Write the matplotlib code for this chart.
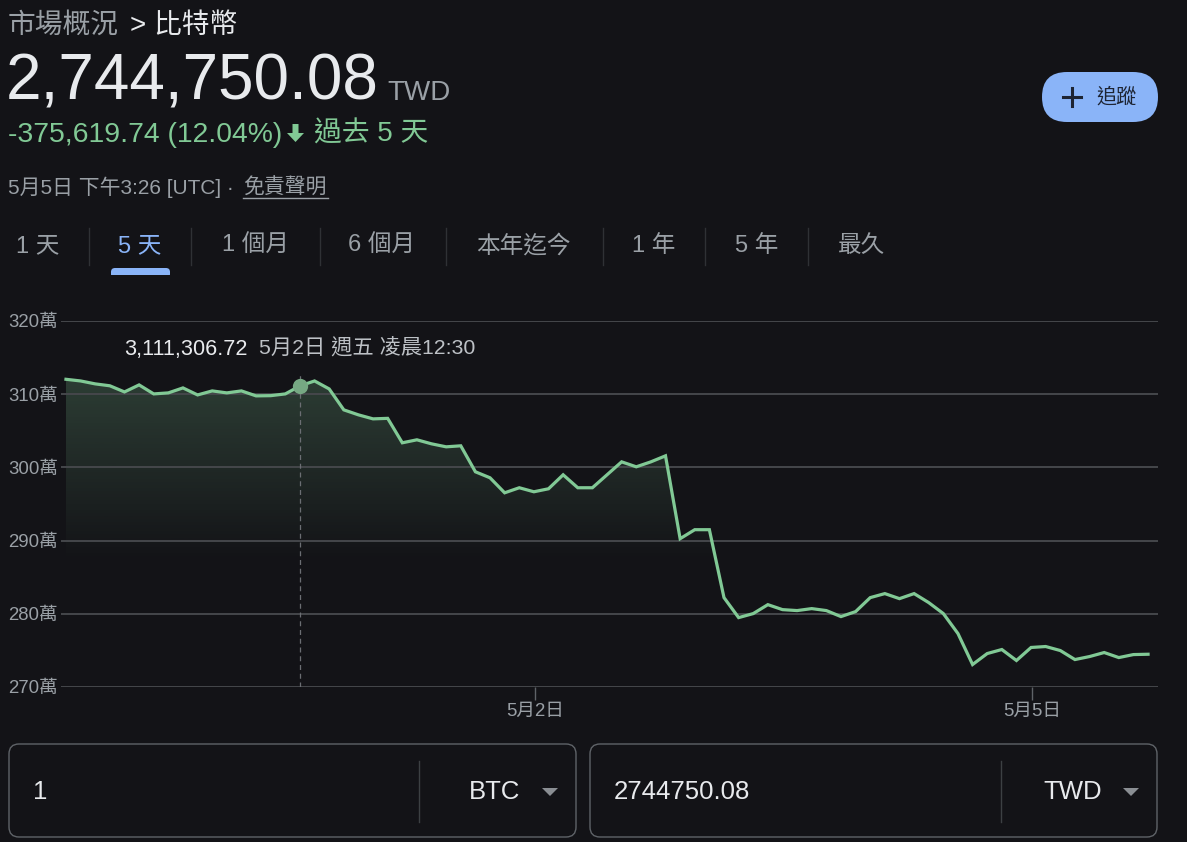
import matplotlib
matplotlib.use('Agg')
import matplotlib.pyplot as plt
import matplotlib.transforms as mtransforms
from matplotlib.patches import FancyBboxPatch, Polygon
from matplotlib.lines import Line2D
import numpy as np

plt.rcParams['font.family'] = ['Liberation Sans', 'Noto Sans CJK TC', 'DejaVu Sans']

# BTC/TWD, last 5 days (TWD)
prices = [3120369.82, 3118100, 3114100, 3111500, 3103100, 3112700, 3100400, 3101800,
          3108600, 3099000, 3104500, 3101800, 3104500, 3097700, 3098000, 3100400,
          3111306.72, 3118100, 3107200, 3078600, 3071800, 3066300, 3067000, 3033600,
          3037700, 3032200, 3028100, 3029500, 2994000, 2985800, 2965300, 2972200,
          2966700, 2970800, 2989900, 2972200, 2972200, 2989900, 3007600, 3000800,
          3007600, 3015800, 2902600, 2914900, 2914900, 2822100, 2794800, 2800300,
          2812500, 2805700, 2804400, 2807100, 2804400, 2796200, 2803000, 2822100,
          2827600, 2820700, 2827600, 2815300, 2800300, 2773000, 2730700, 2745700,
          2751200, 2736200, 2754000, 2755300, 2749800, 2737500, 2741600, 2747100,
          2740200, 2744300, 2744750.08]
hover_idx = 16
hover_time = '5月2日 週五 凌晨12:30'
day_ticks = [32.08, 66.07]
day_labels = ['5月2日', '5月5日']
y_ticks = [2700000, 2800000, 2900000, 3000000, 3100000, 3200000]
ranges = ['1 天', '5 天', '1 個月', '6 個月', '本年迄今', '1 年', '5 年', '最久']
change = prices[-1] - prices[0]
pct = change / prices[0] * 100

BG = '#131317'
GREY = '#9aa0a6'
WHITE = '#e8eaed'
GREEN = '#81c995'
BLUE = '#8ab4f8'
LINE = '#45474b'

W, H = 1187, 842
fig = plt.figure(figsize=(W / 100, H / 100), dpi=100, facecolor=BG)
px = mtransforms.Affine2D().scale(1 / W, -1 / H).translate(0, 1) + fig.transFigure


def txt(x, y, s, **kw):
    fig.text(x / W, 1 - y / H, s, **kw)


# ---- header ----
txt(8, 33, '市場概況', color=GREY, fontsize=20)
txt(130, 33, '> 比特幣', color=WHITE, fontsize=20)
txt(6, 100, f'{prices[-1]:,.2f}', color=WHITE, fontsize=46)
txt(387, 100, 'TWD', color=GREY, fontsize=20)
txt(8, 142, f'{change:,.2f} ({abs(pct):.2f}%)', color=GREEN, fontsize=20.4)
fig.patches.append(Polygon([(292.5, 124), (298.5, 124), (298.5, 133), (304, 133), (295.5, 142),
                            (287, 133), (292.5, 133)], closed=True, transform=px,
                           facecolor=GREEN, edgecolor='none'))
txt(314, 142, '過去 5 天', color=GREEN, fontsize=20)
txt(8, 194, '5月5日 下午3:26 [UTC] · ', color=GREY, fontsize=15)
txt(243, 194, '免責聲明', color=GREY, fontsize=15)
fig.lines.append(Line2D([243, 328], [198, 198], transform=px, color=GREY, lw=1))

# follow button
fig.patches.append(FancyBboxPatch((1042, 72), 116, 50, boxstyle='round,pad=0,rounding_size=25',
                                  transform=px, facecolor=BLUE, edgecolor='none'))
fig.lines.append(Line2D([1063, 1081], [97, 97], transform=px, color='#1d2433', lw=2.2))
fig.lines.append(Line2D([1072, 1072], [88, 106], transform=px, color='#1d2433', lw=2.2))
txt(1096, 97, '追蹤', color='#1d2433', fontsize=14.5, va='center')

# range tabs
tab_x = [16, 118, 222, 348, 476, 632, 735, 838]
for lab, x in zip(ranges, tab_x):
    txt(x, 246, lab, color=BLUE if lab == '5 天' else GREY, fontsize=17, va='center')
for x in [89, 191, 320, 446, 603, 705, 808]:
    fig.lines.append(Line2D([x, x], [228, 265], transform=px, color='#2f3135', lw=1))
fig.patches.append(FancyBboxPatch((111, 268), 59, 10, boxstyle='round,pad=0,rounding_size=4',
                                  transform=px, facecolor=BLUE, edgecolor='none'))
fig.patches.append(FancyBboxPatch((105, 275), 70, 10, boxstyle='square,pad=0',
                                  transform=px, facecolor=BG, edgecolor='none'))

# ---- chart ----
ax = fig.add_axes([61 / W, 1 - 687 / H, (1158 - 61) / W, (687 - 321) / H])
ax.set_facecolor(BG)
x = np.arange(len(prices))
y = np.array(prices)
xlim = (-0.34, len(prices) - 1 + 0.68)
ylim = (2700000, 3200000)

grad_v = np.linspace(ylim[0], ylim[1], 300)
alpha = np.clip((grad_v - 2870000) / (3130000 - 2870000), 0, 1) * 0.24
img = np.zeros((300, 1, 4))
img[:, 0, 0] = 0x81 / 255
img[:, 0, 1] = 0xc9 / 255
img[:, 0, 2] = 0x95 / 255
img[:, 0, 3] = alpha
fill = ax.fill_between(x, y, ylim[0], facecolor='none', edgecolor='none')
im = ax.imshow(img, extent=[x[0], x[-1], ylim[0], ylim[1]], origin='lower', aspect='auto', zorder=1)
im.set_clip_path(fill.get_paths()[0], transform=ax.transData)

ax.plot(x, y, color=GREEN, lw=2.3, zorder=4, solid_joinstyle='miter')
ax.vlines(hover_idx, ylim[0], 3130400, colors='#6b6e73', lw=0.9, linestyles=(0, (4, 3)), zorder=3)
ax.plot(hover_idx, y[hover_idx], 'o', ms=11, color='#76a883', mec='none', zorder=5)

ax.set_xlim(xlim)
ax.set_ylim(ylim)
ax.set_yticks(y_ticks)
ax.set_yticklabels([f'{v / 10000:.0f}萬' for v in y_ticks])
ax.set_xticks(day_ticks)
ax.set_xticklabels(day_labels)
ax.tick_params(axis='y', length=0, pad=2, labelsize=13.4, labelcolor=GREY)
ax.tick_params(axis='x', length=9.5, width=1, color='#5f6368', pad=2, labelsize=13.4, labelcolor=GREY)
ax.grid(axis='y', color=LINE, lw=1.4, zorder=0)
for s in ax.spines.values():
    s.set_visible(False)

# hover tooltip
txt(124, 355, f'{prices[hover_idx]:,.2f}', color=WHITE, fontsize=15.6)
txt(259, 355, hover_time, color='#bdc1c6', fontsize=15.3)

# ---- converter boxes ----
for bx, num, cur, dv, cx, tri in [(9, '1', 'BTC', 419, 469, 550), (590, '2744750.08', 'TWD', 1001, 1043, 1131)]:
    fig.patches.append(FancyBboxPatch((bx, 744), 567, 93, boxstyle='round,pad=0,rounding_size=10',
                                      transform=px, facecolor=BG, edgecolor='#5f6368', lw=1))
    fig.lines.append(Line2D([dv, dv], [761, 822], transform=px, color='#3c4043', lw=1))
    txt(bx + 24, 792, num, color=WHITE, fontsize=18.5, va='center')
    txt(cx, 792, cur, color=WHITE, fontsize=18.5, va='center')
    fig.patches.append(Polygon([(tri - 8, 788), (tri + 8, 788), (tri, 796)], closed=True,
                               transform=px, facecolor='#8a8e93', edgecolor='none'))

fig.savefig('out.png', dpi=100, facecolor=BG)
